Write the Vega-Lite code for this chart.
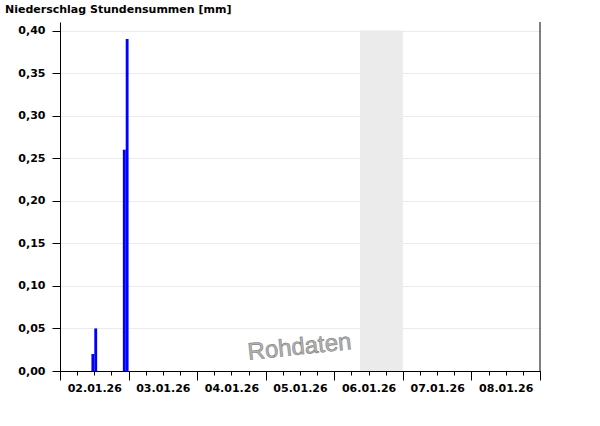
{
  "$schema": "https://vega.github.io/schema/vega-lite/v6.json",
  "autosize": "none",
  "width": 480,
  "height": 349,
  "padding": {"left": 60, "top": 22, "right": 60, "bottom": 55},
  "background": "white",
  "title": {
    "text": "Niederschlag Stundensummen [mm]",
    "anchor": "start",
    "frame": "group",
    "font": "DejaVu Sans",
    "fontSize": 11,
    "fontWeight": "bold",
    "color": "black",
    "baseline": "alphabetic",
    "dx": -55,
    "offset": -2
  },
  "datasets": {
    "bars": [
      {"start": 1767351600000, "end": 1767355200000, "mm": 0.02},
      {"start": 1767355200000, "end": 1767358800000, "mm": 0.05},
      {"start": 1767391200000, "end": 1767394800000, "mm": 0.26},
      {"start": 1767394800000, "end": 1767398400000, "mm": 0.39}
    ],
    "band": [
      {"start": 1767690000000, "end": 1767744000000, "lo": 0, "hi": 0.4}
    ],
    "border": [
      {"t": 1767916800000, "lo": 0, "hi": 0.41}
    ],
    "mark": [
      {"t": 1767613800000, "v": 0.0276, "label": "Rohdaten"}
    ]
  },
  "resolve": {"axis": {"x": "independent"}},
  "layer": [
    {
      "data": {"name": "band"},
      "mark": {"type": "rect", "color": "#ebebeb"},
      "encoding": {
        "x": {
          "field": "start", "type": "temporal",
          "scale": {"type": "utc", "domain": [1767312000000, 1767916800000], "nice": false, "padding": 0},
          "axis": {
            "orient": "bottom",
            "title": null,
            "zindex": 1,
            "values": [1767312000000, 1767398400000, 1767484800000, 1767571200000, 1767657600000, 1767744000000, 1767830400000, 1767916800000],
            "tickSize": 9,
            "tickColor": "black",
            "domainColor": "black",
            "labels": false,
            "grid": false
          }
        },
        "x2": {"field": "end"},
        "y": {
          "field": "lo", "type": "quantitative",
          "scale": {"domain": [0, 0.41], "nice": false, "zero": true, "padding": 0},
          "axis": {
            "title": null,
            "zindex": 0,
            "values": [0, 0.05, 0.1, 0.15, 0.2, 0.25, 0.3, 0.35, 0.4],
            "labelExpr": "replace(format(datum.value, '.2f'), '.', ',')",
            "tickSize": 8,
            "tickColor": "black",
            "domainColor": "black",
            "labelFont": "DejaVu Sans",
            "labelFontSize": 11,
            "labelFontWeight": "bold",
            "labelColor": "black",
            "labelPadding": 7,
            "grid": true,
            "gridColor": "#ebebeb",
            "gridWidth": 1
          }
        },
        "y2": {"field": "hi"}
      }
    },
    {
      "data": {"name": "bars"},
      "mark": {"type": "bar", "color": "#0000ff"},
      "encoding": {
        "x": {
          "field": "start", "type": "temporal",
          "axis": {
            "orient": "bottom",
            "title": null,
            "zindex": 1,
            "values": [1767312000000, 1767333600000, 1767355200000, 1767376800000, 1767398400000, 1767420000000, 1767441600000, 1767463200000, 1767484800000, 1767506400000, 1767528000000, 1767549600000, 1767571200000, 1767592800000, 1767614400000, 1767636000000, 1767657600000, 1767679200000, 1767700800000, 1767722400000, 1767744000000, 1767765600000, 1767787200000, 1767808800000, 1767830400000, 1767852000000, 1767873600000, 1767895200000, 1767916800000],
            "tickSize": 4,
            "tickColor": "black",
            "domain": false,
            "labelExpr": "utchours(datum.value) == 12 ? utcFormat(datum.value, '%d.%m.%y') : ''",
            "labelOverlap": false,
            "labelFlush": false,
            "labelBound": false,
            "labelFont": "DejaVu Sans",
            "labelFontSize": 11,
            "labelFontWeight": "bold",
            "labelColor": "black",
            "labelPadding": 7,
            "grid": false
          }
        },
        "x2": {"field": "end"},
        "y": {"field": "mm", "type": "quantitative"},
        "y2": {"datum": 0}
      }
    },
    {
      "data": {"name": "border"},
      "mark": {"type": "rule", "color": "black", "strokeWidth": 1},
      "encoding": {
        "x": {"field": "t", "type": "temporal", "axis": null},
        "y": {"field": "lo", "type": "quantitative"},
        "y2": {"field": "hi"}
      }
    },
    {
      "data": {"name": "mark"},
      "mark": {"type": "text", "font": "Liberation Sans", "fontSize": 24, "angle": -6, "fill": "#b4b4b4", "stroke": "#808080", "strokeWidth": 0.6, "align": "center", "baseline": "middle"},
      "encoding": {
        "x": {"field": "t", "type": "temporal", "axis": null},
        "y": {"field": "v", "type": "quantitative"},
        "text": {"field": "label"}
      }
    }
  ],
  "config": {"view": {"stroke": null}}
}
